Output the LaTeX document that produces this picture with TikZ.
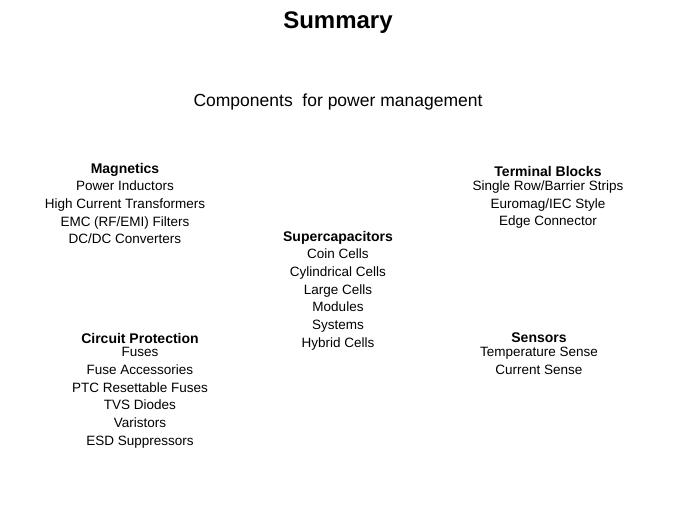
\documentclass[tikz,border=0pt]{standalone}
\usepackage{fontspec}
\setmainfont{Liberation Sans}
\usetikzlibrary{positioning}
\tikzset{
  heading/.style={font=\fontsize{14}{16}\selectfont\bfseries, inner sep=0pt},
  itemlist/.style={font=\fontsize{13.5}{17.7}\selectfont, align=center, inner sep=0pt},
}
\begin{document}
\begin{tikzpicture}[x=1pt, y=-1pt]
\useasboundingbox (0,0) rectangle (675,506);

\node (title) [font=\fontsize{24}{28}\selectfont\bfseries, inner sep=0pt] at (338,23) {Summary};
\node (topic) [font=\fontsize{17.5}{20}\selectfont, inner sep=0pt] at (338,102) {Components\ \ for power management};

\node (magnetics) [heading] at (125,170) {Magnetics};
\node (maglist) [itemlist, below=4pt of magnetics] {Power Inductors\\High Current Transformers\\EMC (RF/EMI) Filters\\DC/DC Converters};

\node (terminal) [heading] at (548,171) {Terminal Blocks};
\node (termlist) [itemlist, below=4pt of terminal] {Single Row/Barrier Strips\\Euromag/IEC Style\\Edge Connector};

\node (supercaps) [heading] at (338,238) {Supercapacitors};
\node (caplist) [itemlist, below=4pt of supercaps] {Coin Cells\\Cylindrical Cells\\Large Cells\\Modules\\Systems\\Hybrid Cells};

\node (protection) [heading] at (140,338) {Circuit Protection};
\node (protlist) [itemlist, below=4pt of protection] {Fuses\\Fuse Accessories\\PTC Resettable Fuses\\TVS Diodes\\Varistors\\ESD Suppressors};

\node (sensors) [heading] at (539,338) {Sensors};
\node (senslist) [itemlist, below=4pt of sensors] {Temperature Sense\\Current Sense};
\end{tikzpicture}
\end{document}
